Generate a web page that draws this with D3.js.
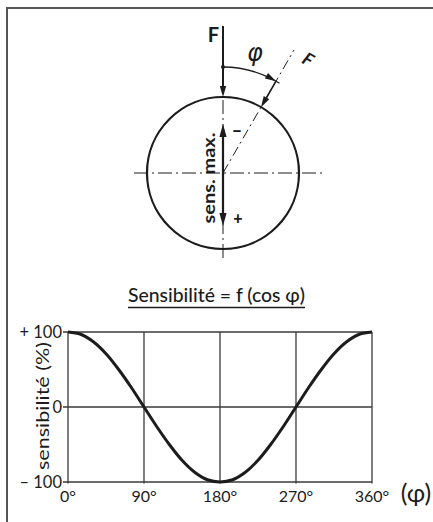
<!DOCTYPE html>
<html><head><meta charset="utf-8">
<script src="https://cdn.jsdelivr.net/npm/d3@7"></script>
<style>body{margin:0;background:#fff}svg{display:block}</style>
</head><body>
<svg id="c" width="433" height="522"></svg>
<script>
// Data
const angles = [0,15,30,45,60,75,90,105,120,135,150,165,180,195,210,225,240,255,270,285,300,315,330,345,360];
const sens   = [100,97,87,71,50,26,0,-26,-50,-71,-87,-97,-100,-97,-87,-71,-50,-26,0,26,50,71,87,97,100];
const xTicks = [0,90,180,270,360];
const xTickLabels = ["0°","90°","180°","270°","360°"];
const yTicks = [100,0,-100];
const yTickLabels = ["+ 100","0","– 100"];
const title = "Sensibilité = f (cos φ)";
const yLabel = "sensibilité (%)";
const phiAngle = 30; // angle of inclined force in diagram

const svg = d3.select("#c");
const ink = "#1c1c1c";
const font = "Lato, 'Noto Sans', sans-serif";

// frame
svg.append("path").attr("d","M7,522V8H433").attr("fill","none").attr("stroke","#555").attr("stroke-width",2);

// ---------- Diagram ----------
const cx = 223, cy = 173, R = 76;
const g = svg.append("g");
function arrowHead(x,y,dir,len=11,w=3.2){
  const bx = x - len*Math.cos(dir), by = y - len*Math.sin(dir);
  const px = -Math.sin(dir)*w, py = Math.cos(dir)*w;
  g.append("path").attr("d",`M${x},${y}L${bx+px},${by+py}L${bx-px},${by-py}Z`).attr("fill",ink);
}
const dd = "14,4,2,4";
g.append("line").attr("x1",134).attr("x2",322).attr("y1",cy).attr("y2",cy)
  .attr("stroke",ink).attr("stroke-width",1).attr("stroke-dasharray",dd);
g.append("line").attr("x1",cx).attr("x2",cx).attr("y1",100).attr("y2",262)
  .attr("stroke",ink).attr("stroke-width",1).attr("stroke-dasharray",dd);
g.append("circle").attr("cx",cx).attr("cy",cy).attr("r",R).attr("fill","none").attr("stroke",ink).attr("stroke-width",2.2);
const a = phiAngle*Math.PI/180;
const ux = Math.sin(a), uy = -Math.cos(a);
g.append("line").attr("x1",cx).attr("y1",cy).attr("x2",cx+ux*142).attr("y2",cy+uy*142)
  .attr("stroke",ink).attr("stroke-width",1).attr("stroke-dasharray","10,4,2,4");
// vertical force F
g.append("line").attr("x1",cx).attr("x2",cx).attr("y1",26).attr("y2",88).attr("stroke",ink).attr("stroke-width",2);
arrowHead(cx,cy-R,Math.PI/2);
g.append("circle").attr("cx",cx).attr("cy",67).attr("r",2).attr("fill",ink);
g.append("text").attr("x",213.5).attr("y",42).attr("text-anchor","middle").attr("font-family",font).attr("font-weight",700).attr("font-size",20).attr("fill",ink).text("F");
// arc phi
const rA = cy-67;
const arc = d3.arc().innerRadius(rA).outerRadius(rA).startAngle(0).endAngle(a-0.06);
g.append("path").attr("d",arc()).attr("transform",`translate(${cx},${cy})`).attr("fill","none").attr("stroke",ink).attr("stroke-width",1.3);
arrowHead(cx+Math.sin(a)*rA, cy-Math.cos(a)*rA, a, 11, 3.2);
const tx = cx+ux*rA, ty = cy+uy*rA;
g.append("line").attr("x1",tx-uy*4).attr("y1",ty+ux*4).attr("x2",tx+uy*4).attr("y2",ty-ux*4).attr("stroke",ink).attr("stroke-width",1.3);
g.append("line").attr("x1",tx).attr("y1",ty).attr("x2",cx+ux*(R+8)).attr("y2",cy+uy*(R+8)).attr("stroke",ink).attr("stroke-width",1.6);
arrowHead(cx+ux*R, cy+uy*R, Math.atan2(-uy,-ux), 11, 3.2);
g.append("text").attr("transform",`translate(${305},${65}) rotate(30)`).attr("text-anchor","middle").attr("font-family",font).attr("font-weight",700).attr("font-style","italic").attr("font-size",18).attr("fill",ink).text("F");
g.append("text").attr("x",255).attr("y",61).attr("text-anchor","middle").attr("font-family","'DejaVu Sans', sans-serif").attr("font-style","italic").attr("font-size",24).attr("fill",ink).text("φ");
// sens. max double arrow
g.append("line").attr("x1",cx).attr("x2",cx).attr("y1",132).attr("y2",218).attr("stroke",ink).attr("stroke-width",2.2);
arrowHead(cx,124,-Math.PI/2,13,3.6);
arrowHead(cx,226,Math.PI/2,13,3.6);
g.append("text").attr("transform",`translate(${215},${178}) rotate(-90)`).attr("text-anchor","middle").attr("font-family",font).attr("font-weight",700).attr("font-size",17).attr("textLength",91).attr("lengthAdjust","spacingAndGlyphs").attr("fill",ink).text("sens. max.");
g.append("text").attr("x",237).attr("y",137).attr("text-anchor","middle").attr("font-family",font).attr("font-weight",900).attr("font-size",18).attr("fill",ink).text("–");
g.append("text").attr("x",238).attr("y",224).attr("text-anchor","middle").attr("font-family",font).attr("font-weight",900).attr("font-size",16).attr("fill",ink).text("+");

// ---------- Chart ----------
const x = d3.scaleLinear().domain([0,360]).range([68,372]);
const y = d3.scaleLinear().domain([-100,100]).range([482,332]);
svg.append("text").attr("x",216.5).attr("y",301.5).attr("text-anchor","middle").attr("font-family",font).attr("font-weight",500).attr("font-size",18.5).attr("textLength",177).attr("lengthAdjust","spacingAndGlyphs").attr("fill",ink).text(title);
svg.append("line").attr("x1",128).attr("x2",305).attr("y1",307.5).attr("y2",307.5).attr("stroke",ink).attr("stroke-width",1.6);

// grid
svg.append("g").selectAll("line").data(xTicks).join("line")
  .attr("x1",d=>x(d)).attr("x2",d=>x(d)).attr("y1",y(100)).attr("y2",y(-100)+1.5)
  .attr("stroke","#3a3a3a").attr("stroke-width",1.3);
svg.append("g").selectAll("line").data(yTicks).join("line")
  .attr("x1",x(0)-5).attr("x2",x(360)).attr("y1",d=>y(d)).attr("y2",d=>y(d))
  .attr("stroke","#3a3a3a").attr("stroke-width",1.3);
svg.append("g").selectAll("text").data(yTicks).join("text")
  .attr("x",62).attr("y",d=>y(d)+5.5).attr("text-anchor","end")
  .attr("font-family",font).attr("font-size",16.5).attr("fill",ink).text((d,i)=>yTickLabels[i]);
svg.append("g").selectAll("text").data(xTicks).join("text")
  .attr("x",d=>x(d)).attr("y",502).attr("text-anchor","middle")
  .attr("font-family",font).attr("font-size",16).attr("fill",ink).text((d,i)=>xTickLabels[i]);
svg.append("text").attr("x",416).attr("y",502).attr("text-anchor","middle").attr("font-family",font).attr("font-size",25).attr("fill",ink).text("(φ)");
svg.append("text").attr("transform",`translate(49,${406}) rotate(-90)`).attr("text-anchor","middle")
  .attr("font-family",font).attr("font-size",17).attr("textLength",128).attr("lengthAdjust","spacingAndGlyphs").attr("fill",ink).text(yLabel);

const line = d3.line().x(d=>x(d[0])).y(d=>y(d[1])).curve(d3.curveCatmullRom);
svg.append("path").datum(angles.map((a,i)=>[a,sens[i]])).attr("d",line)
  .attr("fill","none").attr("stroke",ink).attr("stroke-width",3);
</script>
</body></html>
